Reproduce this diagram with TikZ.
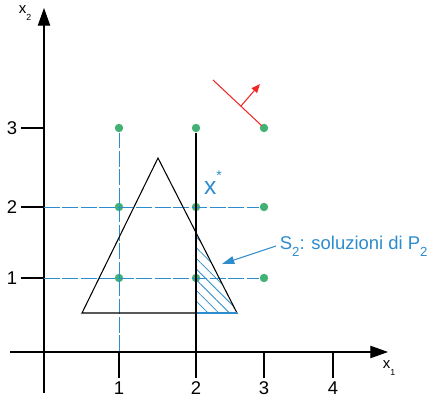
\documentclass[tikz,border=0pt]{standalone}
\usepackage{fontspec}
\setmainfont{Liberation Sans}
\usetikzlibrary{arrows.meta, patterns.meta}

\definecolor{gridblue}{RGB}{45,140,205}
\definecolor{dotgreen}{RGB}{65,178,115}
\definecolor{dirred}{RGB}{240,40,40}

\newcommand{\lowsub}[2]{\raisebox{-#1}{\fontsize{7.5}{8}\selectfont #2}}

\begin{document}
\begin{tikzpicture}[
    x=0.02cm, y=-0.02cm,
    >=Triangle,
    axis/.style={line width=0.6pt, -{Triangle[length=10pt, width=7pt]}},
    tick/.style={line width=0.6pt},
    num/.style={font=\fontsize{10.5}{12}\selectfont, inner sep=2pt},
    axlabel/.style={font=\fontsize{8.5}{10}\selectfont, inner sep=0pt},
    dot/.style={circle, fill=dotgreen, inner sep=0pt, minimum size=4.8pt},
    gridline/.style={gridblue, line width=0.55pt, dash pattern=on 9pt off 1.5pt},
    optline/.style={line width=1.6pt},
    lbl/.style={text=gridblue, font=\fontsize{10.5}{12}\selectfont},
]
\useasboundingbox (0,0) rectangle (446,404);

% ---- Axes ----
\coordinate (O) at (44,352);
\coordinate (xstart) at (10,352);
\coordinate (xend) at (388,352);
\coordinate (ystart) at (44,393);
\coordinate (yend) at (44,8);
\draw[axis] (xstart) -- (xend);
\draw[axis] (ystart) -- (yend);
\node[axlabel] (x1lab) at (389,368) {x\lowsub{3.5pt}{\fontsize{5}{6}\selectfont 1}};
\node[axlabel] (x2lab) at (25,13) {x\lowsub{3.5pt}{\fontsize{5}{6}\selectfont 2}};

% ---- Tick labels ----
\node[num] (tx1) at (119,388) {1};
\node[num] (tx2) at (196,388) {2};
\node[num] (tx3) at (264,388) {3};
\node[num] (tx4) at (333,388) {4};
\node[num] (ty1) at (12,278) {1};
\node[num] (ty2) at (12,207) {2};
\node[num] (ty3) at (12,128) {3};
\draw[tick] (tx1.north) -- (tx1.north |- O);
\draw[tick] (tx2.north) -- (tx2.north |- O);
\draw[tick] (tx3.north) -- (tx3.north |- O);
\draw[tick] (tx4.north) -- (tx4.north |- O);
\draw[tick] (ty1.east) -- (ty1.east -| O);
\draw[tick] (ty2.east) -- (ty2.east -| O);
\draw[tick] (ty3.east) -- (ty3.east -| O);

% ---- Integer points ----
\node[dot] (d11) at (119,278) {};
\node[dot] (d12) at (119,207) {};
\node[dot] (d13) at (119,128) {};
\node[dot] (d21) at (196,278) {};
\node[dot] (d22) at (196,207) {};
\node[dot] (d23) at (196,128) {};
\node[dot] (d31) at (264,278) {};
\node[dot] (d32) at (264,207) {};
\node[dot] (d33) at (264,128) {};

% ---- Dashed guides ----
\draw[gridline] (d13) -- (d13 |- O);
\draw[gridline] (d12 -| O) -- (d32);
\draw[gridline] (d11 -| O) -- (d31);

% ---- Feasible triangle and hatched part S_2 ----
\coordinate (A) at (82,313);
\coordinate (B) at (158,158);
\coordinate (C) at (237,313);
\coordinate (H) at (intersection of B--C and d23--d21);
\fill[pattern={Lines[angle=-45, distance=4.3pt, line width=0.45pt]}, pattern color=gridblue]
    (H) -- (C) -- (H |- A) -- cycle;
\draw[line width=0.6pt] (A) -- (B) -- (C) -- cycle;
\draw[gridblue, line width=0.8pt] (H |- A) -- (C);

% ---- Branching line x_1 = 2 ----
\draw[optline] (d23) -- (d23 |- O);

% ---- Objective direction ----
\coordinate (r1) at (213,80);
\coordinate (r2) at (262,126);
\coordinate (rm) at (241,106);
\coordinate (rn) at (260,84);
\draw[dirred, line width=0.6pt] (r1) -- (r2);
\draw[dirred, line width=0.6pt, -{Triangle[length=5pt, width=4pt]}] (rm) -- (rn);

% ---- Labels ----
\node[text=gridblue, font=\fontsize{14}{16}\selectfont, inner sep=0pt] (xstar)
    at (213,183) {x\raisebox{1.1ex}{\fontsize{8}{9}\selectfont *}};
\node[lbl, anchor=west, inner sep=2pt] (sol) at (276,246)
    {S\lowsub{4pt}{2}: soluzioni di P\lowsub{4pt}{2}};
\coordinate (solend) at (222,264);
\draw[gridblue, line width=0.6pt, -{Triangle[length=7pt, width=4.5pt]}] (sol.west) -- (solend);

\end{tikzpicture}
\end{document}
